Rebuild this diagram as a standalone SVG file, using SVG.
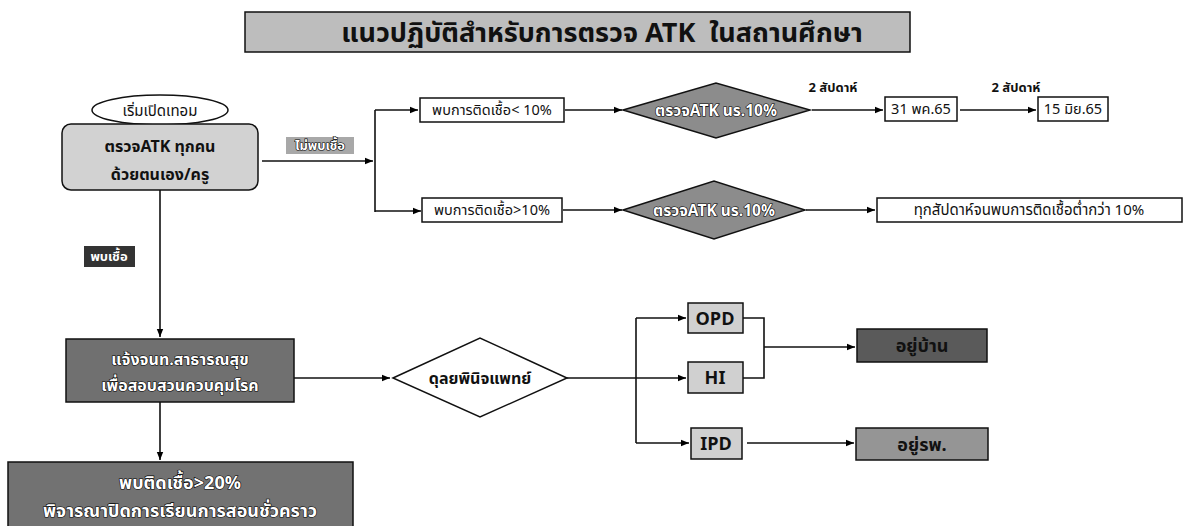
<svg xmlns="http://www.w3.org/2000/svg" width="1190" height="526" viewBox="0 0 1190 526">
<defs>
<marker id="arr" viewBox="0 0 10 10" refX="10" refY="5" markerWidth="8" markerHeight="8" markerUnits="userSpaceOnUse" orient="auto">
<path d="M0,1 L10,5 L0,9 z" fill="#000"/>
</marker>
</defs>
<style>
text{font-family:"Noto Sans Thai","Noto Sans","DejaVu Sans",sans-serif;fill:#111;}
.b{font-weight:bold;}
.box{stroke:#111;stroke-width:1.5;}
.c{fill:none;stroke:#111;stroke-width:1.6;}
.ca{fill:none;stroke:#111;stroke-width:1.6;marker-end:url(#arr);}
.w{fill:#fff;stroke:#000;stroke-width:1.2;paint-order:stroke;font-weight:bold;}
</style>
<rect width="1190" height="526" fill="#fff"/>

<g id="title">
<rect x="245" y="12" width="665" height="40" fill="#bdbdbd" class="box"/>
<text x="602" y="42" font-size="27" text-anchor="middle" class="b">แนวปฏิบัติสำหรับการตรวจ ATK&#160; ในสถานศึกษา</text>
</g>

<g id="connectors">
<path class="ca" d="M262,161 H373"/>
<path class="c" d="M375,110 V212"/>
<path class="ca" d="M375,110 H418"/>
<path class="ca" d="M375,211 H421"/>
<path class="ca" d="M565,110 H622"/>
<path class="ca" d="M563,210 H622"/>
<path class="ca" d="M812,110 H883"/>
<path class="ca" d="M960,110 H1036"/>
<path class="ca" d="M806,210 H875"/>
<path class="ca" d="M160,190 V337"/>
<path class="ca" d="M294,378 H390"/>
<path class="ca" d="M160,402 V460"/>
<path class="c" d="M567,378 H636"/>
<path class="c" d="M636,318 V443"/>
<path class="ca" d="M636,318 H686"/>
<path class="ca" d="M636,378 H686"/>
<path class="ca" d="M636,443 H689"/>
<path class="c" d="M743,318 H764 V378 H743"/>
<path class="ca" d="M764,347 H855"/>
<path class="ca" d="M747,443 H854"/>
</g>

<g id="start">
<ellipse cx="160" cy="110" rx="68" ry="15" fill="#fff" class="box"/>
<text x="160" y="116" font-size="15" text-anchor="middle">เริ่มเปิดเทอม</text>
</g>

<g id="atk-all">
<rect x="62" y="124" width="196" height="66" rx="9" fill="#d2d2d2" class="box"/>
<text x="160" y="152" font-size="16" text-anchor="middle" class="b">ตรวจATK ทุกคน</text>
<text x="160" y="180" font-size="16" text-anchor="middle" class="b">ด้วยตนเอง/ครู</text>
</g>

<g id="label-neg">
<rect x="286" y="137" width="68" height="17" fill="#a8a8a8"/>
<text x="320" y="150" font-size="13" text-anchor="middle" class="w">ไม่พบเชื้อ</text>
</g>

<g id="label-pos">
<rect x="84" y="246" width="51" height="21" fill="#333"/>
<text x="109" y="261" font-size="13" text-anchor="middle" style="fill:#fff;font-weight:bold">พบเชื้อ</text>
</g>

<g id="lt10">
<rect x="420" y="98" width="144" height="24" fill="#fff" class="box"/>
<text x="492" y="115" font-size="14.5" text-anchor="middle">พบการติดเชื้อ&lt; 10%</text>
</g>

<g id="gt10">
<rect x="422" y="198" width="140" height="24" fill="#fff" class="box"/>
<text x="492" y="215" font-size="14.5" text-anchor="middle">พบการติดเชื้อ&gt;10%</text>
</g>

<g id="diamond1">
<polygon points="623,110 716,83 810,110 716,138" fill="#8c8c8c" class="box"/>
<text x="716" y="116" font-size="15.5" text-anchor="middle" class="w">ตรวจATK นร.10%</text>
</g>

<g id="diamond2">
<polygon points="623,210 714,181 805,210 714,239" fill="#8c8c8c" class="box"/>
<text x="714" y="216" font-size="15.5" text-anchor="middle" class="w">ตรวจATK นร.10%</text>
</g>

<g id="week-label-1">
<text x="833" y="92" font-size="13" text-anchor="middle" class="b">2 สัปดาห์</text>
</g>
<g id="week-label-2">
<text x="1016" y="92" font-size="13" text-anchor="middle" class="b">2 สัปดาห์</text>
</g>

<g id="may31">
<rect x="885" y="97" width="72" height="24" fill="#fff" class="box"/>
<text x="921" y="114" font-size="14.5" text-anchor="middle">31 พค.65</text>
</g>

<g id="jun15">
<rect x="1038" y="97" width="70" height="24" fill="#fff" class="box"/>
<text x="1073" y="114" font-size="14.5" text-anchor="middle">15 มิย.65</text>
</g>

<g id="weekly">
<rect x="877" y="198" width="305" height="24" fill="#fff" class="box"/>
<text x="1029" y="215" font-size="15" text-anchor="middle">ทุกสัปดาห์จนพบการติดเชื้อต่ำกว่า 10%</text>
</g>

<g id="notify">
<rect x="66" y="339" width="228" height="63" fill="#707070" class="box"/>
<text x="180" y="365" font-size="16" text-anchor="middle" class="w">แจ้งจนท.สาธารณสุข</text>
<text x="180" y="391" font-size="16" text-anchor="middle" class="w">เพื่อสอบสวนควบคุมโรค</text>
</g>

<g id="close">
<rect x="8" y="462" width="345" height="70" fill="#727272" class="box"/>
<text x="180" y="489" font-size="18" text-anchor="middle" class="w">พบติดเชื้อ&gt;20%</text>
<text x="180" y="517" font-size="18" text-anchor="middle" class="w">พิจารณาปิดการเรียนการสอนชั่วคราว</text>
</g>

<g id="doctor">
<polygon points="393,378 480,338 567,378 480,417" fill="#fff" class="box"/>
<text x="480" y="384" font-size="16" text-anchor="middle" class="b">ดุลยพินิจแพทย์</text>
</g>

<g id="opd">
<rect x="688" y="303" width="55" height="30" fill="#d0d0d0" class="box"/>
<text x="715" y="325" font-size="18" text-anchor="middle" class="b">OPD</text>
</g>

<g id="hi">
<rect x="688" y="362" width="55" height="31" fill="#d0d0d0" class="box"/>
<text x="715" y="384" font-size="18" text-anchor="middle" class="b">HI</text>
</g>

<g id="ipd">
<rect x="691" y="428" width="51" height="31" fill="#d0d0d0" class="box"/>
<text x="716" y="450" font-size="18" text-anchor="middle" class="b">IPD</text>
</g>

<g id="home">
<rect x="857" y="329" width="130" height="33" fill="#5a5a5a" class="box"/>
<text x="922" y="352" font-size="18" text-anchor="middle" class="b">อยู่บ้าน</text>
</g>

<g id="hospital">
<rect x="856" y="428" width="132" height="32" fill="#959595" class="box"/>
<text x="922" y="451" font-size="18" text-anchor="middle" class="b">อยู่รพ.</text>
</g>
</svg>
